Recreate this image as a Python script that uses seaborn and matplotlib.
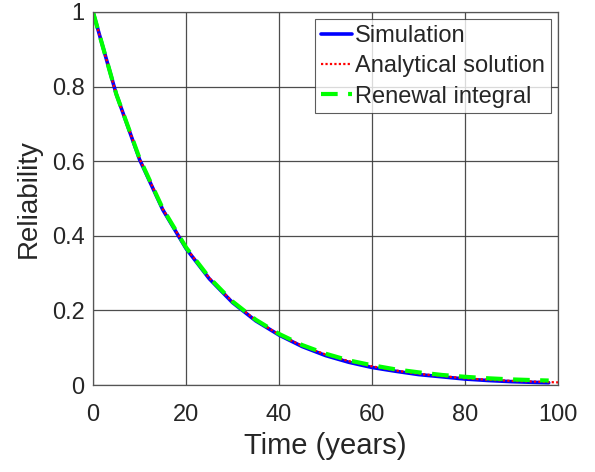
import numpy as np
import pandas as pd
import matplotlib
matplotlib.use("Agg")
import matplotlib.pyplot as plt
import seaborn as sns

# values
time_sim = [0, 5, 10, 15, 20, 25, 30, 35, 40, 45, 50, 55, 60, 65, 70, 75, 80, 85, 90, 95, 98]
rel_sim = [1.0, 0.78, 0.605, 0.47, 0.366, 0.285, 0.221, 0.172, 0.134, 0.103, 0.079, 0.061,
           0.047, 0.037, 0.028, 0.022, 0.016, 0.012, 0.009, 0.007, 0.006]

time_ana = [0, 5, 10, 15, 20, 25, 30, 35, 40, 45, 50, 55, 60, 65, 70, 75, 80, 85, 90, 95, 100]
rel_ana = [1.0, 0.779, 0.607, 0.472, 0.368, 0.287, 0.223, 0.174, 0.135, 0.105, 0.082, 0.064,
           0.050, 0.039, 0.030, 0.024, 0.018, 0.014, 0.011, 0.009, 0.007]

time_ren = [0, 5, 10, 15, 20, 25, 30, 35, 40, 45, 50, 55, 60, 65, 70, 75, 80, 85, 90, 95, 98]
rel_ren = [1.0, 0.78, 0.608, 0.473, 0.369, 0.288, 0.224, 0.175, 0.137, 0.107, 0.084, 0.066,
           0.053, 0.042, 0.034, 0.027, 0.022, 0.018, 0.015, 0.013, 0.012]

sns.set_style("white")
plt.rcParams['font.family'] = ['Liberation Sans', 'DejaVu Sans']

fig = plt.figure(figsize=(5.95, 4.72), dpi=100)
ax = fig.add_axes([93 / 595, 1 - 385 / 472, 465 / 595, 373 / 472])

sns.lineplot(x=time_sim, y=rel_sim, ax=ax, color='#0000ff', lw=2.6, label='Simulation')
sns.lineplot(x=time_ana, y=rel_ana, ax=ax, color='#ff0000', lw=1.6, ls=(0, (1, 1)),
             label='Analytical solution')
sns.lineplot(x=time_ren, y=rel_ren, ax=ax, color='#00ff00', lw=3.0, ls=(0, (4, 2.5)),
             label='Renewal integral')

ax.set_xlim(0, 100)
ax.set_ylim(0, 1)
ax.set_xticks([0, 20, 40, 60, 80, 100])
ax.set_yticks([0, 0.2, 0.4, 0.6, 0.8, 1])
ax.set_yticklabels(['0', '0.2', '0.4', '0.6', '0.8', '1'])
ax.grid(True, color='#3a3a3a', lw=0.9, alpha=0.9)
ax.set_axisbelow(True)
for s in ax.spines.values():
    s.set_color('#555555')
    s.set_linewidth(0.9)
ax.tick_params(axis='both', labelsize=17, colors='#262626', length=0)
ax.tick_params(axis='x', pad=14)
ax.tick_params(axis='y', pad=6)
ax.set_xlabel('Time (years)', fontsize=21, color='#262626', labelpad=4)
ax.set_ylabel('Reliability', fontsize=20, color='#262626', labelpad=7)

leg = ax.legend(loc='upper right', fontsize=17, frameon=True, fancybox=False,
                edgecolor='#333333', handlelength=1.3, handletextpad=0.15,
                borderpad=0.25, labelspacing=0.35, borderaxespad=0.3)
leg.get_frame().set_linewidth(0.8)

fig.savefig('out.png', dpi=100)
